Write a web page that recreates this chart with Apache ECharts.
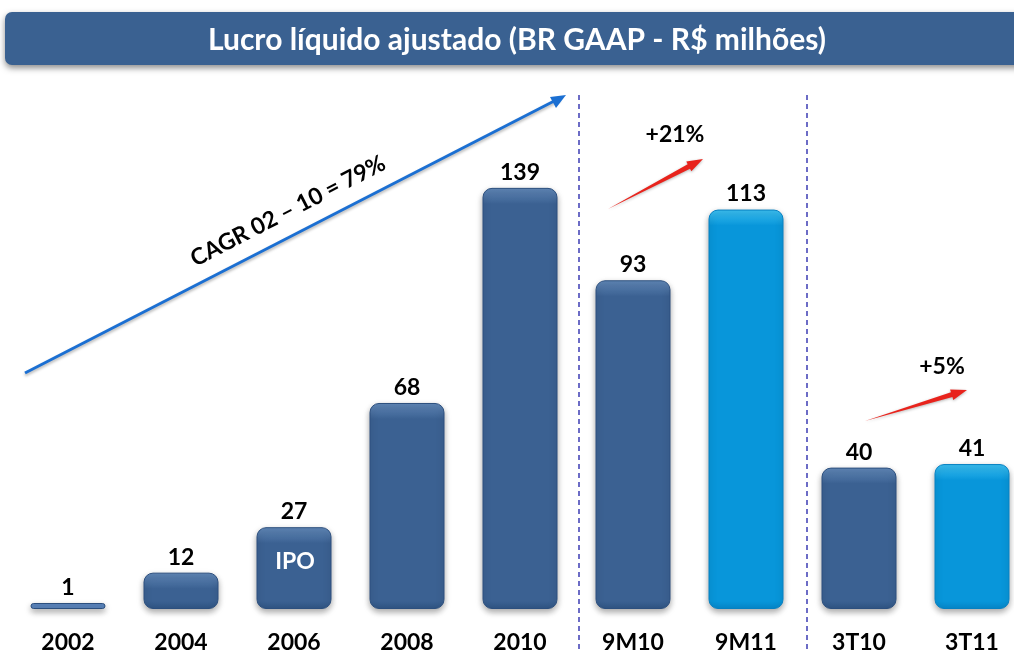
<!DOCTYPE html>
<html lang="pt">
<head>
<meta charset="UTF-8">
<title>Lucro líquido ajustado</title>
<script src="https://cdn.jsdelivr.net/npm/echarts@6/dist/echarts.min.js"></script>
<style>
    html, body { margin: 0; padding: 0; background: #fff; }
    #main { width: 1014px; height: 653px; }
</style>
</head>
<body>
<div id="main"></div>
<script>
    // anos
    var anos = ['2002', '2004', '2006', '2008', '2010'];
    var lucroAnos = [1, 12, 27, 68, 139];
    // periodos (9M e 3T)
    var periodos = ['9M10', '9M11', '3T10', '3T11'];
    var lucroPeriodos = [93, 113, 40, 41];

    var FONT = 'Lato';
    var escuro = {top: '#6188b8', base: '#3b6192', bottom: '#2f5483', border: '#2c4f7e'};
    var claro = {top: '#3cc0f2', base: '#0896da', bottom: '#0686c8', border: '#0680c2'};

    // gradiente vertical com chanfro claro em cima
    function corBarra(c, alturaPx) {
        if (alturaPx < 10) return '#5a84bc';
        var t = Math.min(0.45, 16 / alturaPx);
        var b = Math.min(0.5, 8 / alturaPx);
        return new echarts.graphic.LinearGradient(0, 0, 0, 1, [
            {offset: 0, color: c.top},
            {offset: t, color: c.base},
            {offset: 1 - b, color: c.base},
            {offset: 1, color: c.bottom}
        ]);
    }

    // seta vermelha afinada
    function seta(x1, y1, x2, y2) {
        var dx = x2 - x1, dy = y2 - y1;
        var len = Math.sqrt(dx * dx + dy * dy);
        var ux = dx / len, uy = dy / len;
        var nx = -uy, ny = ux;
        var bx = x2 - ux * 16, by = y2 - uy * 16;
        return {
            type: 'polygon',
            shape: {
                points: [
                    [x1, y1],
                    [bx + nx * 2.5, by + ny * 2.5],
                    [bx + nx * 5.5, by + ny * 5.5],
                    [x2, y2],
                    [bx - nx * 5.5, by - ny * 5.5],
                    [bx - nx * 2.5, by - ny * 2.5]
                ]
            },
            style: {fill: '#e8231c', shadowBlur: 3, shadowColor: 'rgba(0,0,0,0.3)', shadowOffsetY: 1}
        };
    }

    var labelStyle = {
        show: true,
        position: 'top',
        distance: 4,
        fontFamily: FONT,
        fontWeight: 'bold',
        fontSize: 23,
        color: '#000'
    };

    var axisX = {
        type: 'category',
        axisLine: {show: false},
        axisTick: {show: false},
        axisLabel: {fontFamily: FONT, fontWeight: 'bold', fontSize: 23, color: '#000', margin: 22}
    };

    var pxAnos = 509 / 168, pxPer = 509 / 144;

    var myChart = echarts.init(document.getElementById('main'));
    var option = {
        animation: false,
        grid: [
            {left: 11.5, width: 565, top: 100, height: 509, outerBoundsMode: 'none'},
            {left: 576.5, width: 452, top: 100, height: 509, outerBoundsMode: 'none'}
        ],
        xAxis: [
            Object.assign({gridIndex: 0, data: anos}, axisX),
            Object.assign({gridIndex: 1, data: periodos}, axisX)
        ],
        yAxis: [
            {gridIndex: 0, type: 'value', min: 0, max: 168, show: false},
            {gridIndex: 1, type: 'value', min: 0, max: 144, show: false}
        ],
        series: [
            {
                type: 'bar',
                xAxisIndex: 0,
                yAxisIndex: 0,
                barWidth: 75,
                barMinHeight: 6,
                data: lucroAnos.map(function (v) {
                    return {value: v, itemStyle: {color: corBarra(escuro, v * pxAnos)}};
                }),
                label: labelStyle,
                itemStyle: {
                    borderRadius: 9,
                    borderColor: escuro.border,
                    borderWidth: 1,
                    shadowBlur: 6,
                    shadowColor: 'rgba(0,0,0,0.35)',
                    shadowOffsetY: 3
                }
            },
            {
                type: 'bar',
                xAxisIndex: 1,
                yAxisIndex: 1,
                barWidth: 75,
                data: lucroPeriodos.map(function (v, i) {
                    var c = i % 2 === 0 ? escuro : claro;
                    return {value: v, itemStyle: {color: corBarra(c, v * pxPer), borderColor: c.border}};
                }),
                label: labelStyle,
                itemStyle: {
                    borderRadius: 9,
                    borderWidth: 1,
                    shadowBlur: 6,
                    shadowColor: 'rgba(0,0,0,0.35)',
                    shadowOffsetY: 3
                }
            }
        ],
        graphic: [
            // faixa do titulo
            {
                type: 'rect',
                shape: {x: 5, y: 12, width: 1030, height: 53, r: 7},
                style: {fill: '#3a6191', shadowBlur: 6, shadowColor: 'rgba(0,0,0,0.45)', shadowOffsetY: 3},
                z: 10
            },
            {
                type: 'text',
                x: 517, y: 40,
                style: {
                    text: 'Lucro líquido ajustado (BR GAAP - R$ milhões)',
                    fill: '#fff', font: 'bold 30px Lato',
                    align: 'center', verticalAlign: 'middle'
                },
                z: 11
            },
            // linhas tracejadas
            {
                type: 'line',
                shape: {x1: 579, y1: 95, x2: 579, y2: 653},
                style: {stroke: '#3c3cb4', lineWidth: 1.5, lineDash: [5, 4]}
            },
            {
                type: 'line',
                shape: {x1: 807, y1: 95, x2: 807, y2: 653},
                style: {stroke: '#3c3cb4', lineWidth: 1.5, lineDash: [5, 4]}
            },
            // seta CAGR
            {
                type: 'line',
                shape: {x1: 25, y1: 373, x2: 560, y2: 98},
                style: {stroke: '#1b6fd2', lineWidth: 3, shadowBlur: 3, shadowColor: 'rgba(0,0,0,0.3)', shadowOffsetY: 2}
            },
            {
                type: 'polygon',
                shape: {points: [[566, 95], [550, 97], [556, 108]]},
                style: {fill: '#1b6fd2'}
            },
            {
                type: 'text',
                x: 288, y: 211,
                rotation: 27.2 * Math.PI / 180,
                style: {
                    text: 'CAGR 02 – 10 = 79%',
                    fill: '#000', font: 'bold 23px Lato',
                    align: 'center', verticalAlign: 'middle'
                }
            },
            // IPO
            {
                type: 'text',
                x: 295, y: 562,
                style: {text: 'IPO', fill: '#fff', font: 'bold 23px Lato', align: 'center', verticalAlign: 'middle'},
                z: 10
            },
            // +21%
            seta(608, 209, 703, 159),
            {
                type: 'text',
                x: 675, y: 135,
                style: {text: '+21%', fill: '#000', font: 'bold 23px Lato', align: 'center', verticalAlign: 'middle'}
            },
            // +5%
            seta(865, 421, 967, 390),
            {
                type: 'text',
                x: 942, y: 367,
                style: {text: '+5%', fill: '#000', font: 'bold 23px Lato', align: 'center', verticalAlign: 'middle'}
            }
        ]
    };
    myChart.setOption(option);
</script>
</body>
</html>
